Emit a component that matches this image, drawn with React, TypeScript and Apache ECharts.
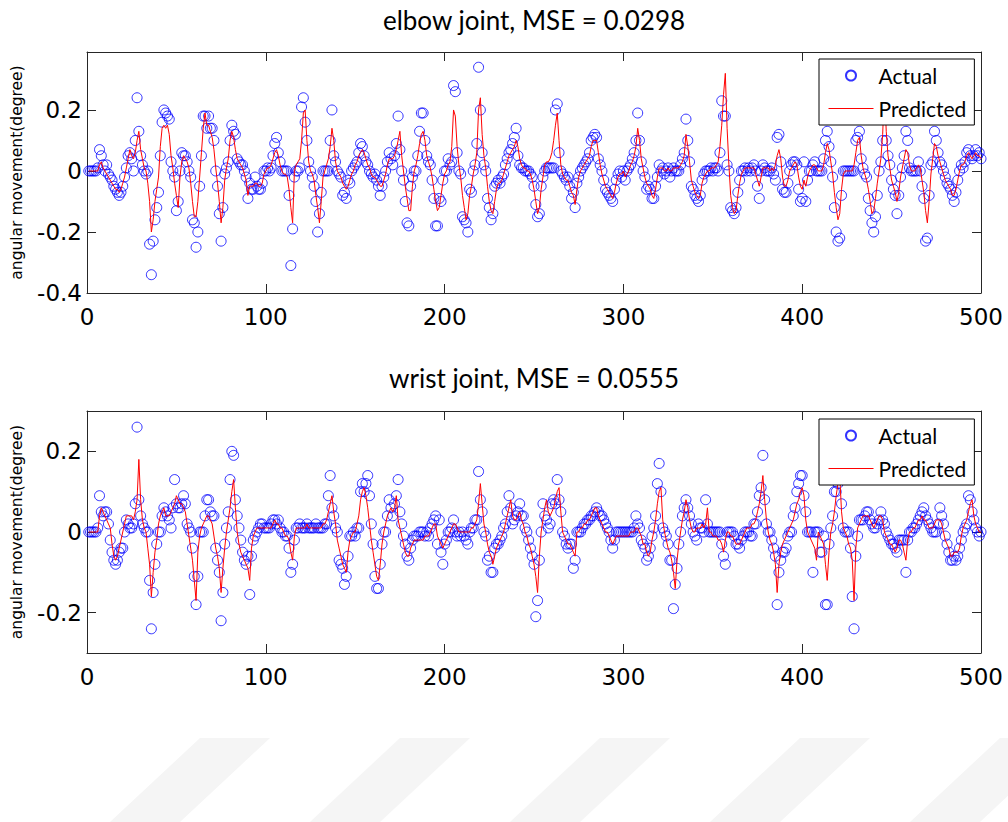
import React, { useEffect, useRef } from "react";
import * as echarts from "echarts";

// x positions are the sample numbers 1..500
const elbowActual = [
  0, 0, 0, 0, 0, 0.01, 0.07, 0.05, 0.02, 0,
  0.02, -0.01, -0.02, -0.03, -0.05, -0.06, -0.07, -0.08, -0.07, -0.05,
  -0.02, 0.01, 0.05, 0.06, 0.04, 0, 0.1, 0.24, 0.13, 0.05,
  0.02, 0, -0.01, 0, -0.24, -0.34, -0.23, -0.16, -0.12, -0.07,
  0.05, 0.16, 0.2, 0.19, 0.18, 0.17, 0.03, 0, -0.02, -0.13,
  -0.1, 0, 0.06, 0.05, 0.05, 0.03, 0, -0.02, -0.16, -0.17,
  -0.25, -0.2, -0.05, 0.05, 0.18, 0.18, 0.14, 0.18, 0.14, 0.14,
  0.1, 0, -0.05, -0.14, -0.23, -0.12, -0.01, 0.01, 0.03, 0.1,
  0.15, 0.13, 0.12, 0.04, 0.03, 0.02, 0.02, 0, -0.02, -0.09,
  -0.04, -0.06, -0.06, -0.02, -0.05, -0.06, -0.06, -0.04, 0, 0,
  0.01, 0, 0.01, 0.05, 0.09, 0.11, 0.06, 0.03, 0, 0,
  0, 0, -0.08, -0.31, -0.19, -0.02, 0, 0, 0.01, 0.21,
  0.24, 0.16, 0.1, 0.03, 0, -0.02, -0.05, -0.1, -0.2, -0.14,
  -0.07, 0, 0, 0, 0, 0.1, 0.2, 0.05, 0.03, 0,
  -0.01, -0.02, -0.08, -0.07, -0.09, -0.03, -0.04, 0, 0.01, 0.02,
  0.03, 0.06, 0.09, 0.08, 0.05, 0.03, 0.02, 0, -0.01, -0.02,
  -0.01, -0.03, -0.05, -0.08, -0.05, -0.02, 0, 0.03, 0.06, 0.04,
  0.02, 0.05, 0.09, 0.18, 0.07, 0, -0.03, -0.1, -0.17, -0.18,
  -0.05, -0.02, 0, 0, 0.05, 0.13, 0.19, 0.19, 0.1, 0.05,
  0.03, 0.02, -0.03, -0.09, -0.18, -0.18, -0.09, -0.1, -0.03, 0,
  0, 0.04, 0.02, 0.03, 0.28, 0.26, 0.06, 0, -0.01, -0.15,
  -0.16, -0.17, -0.2, -0.06, -0.07, 0, 0.02, 0.09, 0.34, 0.2,
  0.06, 0.02, 0, -0.09, -0.12, -0.16, -0.14, -0.05, -0.04, -0.03,
  -0.04, -0.02, -0.01, 0.02, 0.04, 0.06, 0.07, 0.09, 0.11, 0.14,
  0.05, 0.02, 0.01, 0.01, 0, 0, 0, -0.01, -0.02, -0.05,
  -0.11, -0.15, -0.14, -0.05, -0.02, 0, 0.01, 0.01, 0.01, 0.01,
  0.01, 0.2, 0.22, 0.06, 0, -0.01, -0.02, -0.03, -0.02, -0.05,
  -0.09, -0.07, -0.12, -0.04, -0.02, 0, 0.01, 0.02, 0.03, 0.04,
  0.06, 0.1, 0.11, 0.12, 0.11, 0.04, 0.02, 0, -0.03, -0.06,
  -0.07, -0.08, -0.09, -0.1, -0.06, -0.03, -0.01, 0, -0.02, 0,
  -0.03, 0, 0.01, 0.02, 0.04, 0.06, 0.1, 0.19, 0.1, 0.03,
  0, -0.02, -0.06, -0.05, -0.06, -0.09, -0.09, -0.05, -0.02, 0.02,
  0, 0.01, -0.01, 0, 0.01, -0.02, 0, 0.01, 0, 0,
  0, 0.02, 0.04, 0.06, 0.17, 0.1, 0.03, -0.05, -0.06, -0.08,
  -0.09, -0.1, -0.08, -0.03, -0.01, 0, 0, 0, 0.01, 0,
  0.01, 0.01, 0, 0.06, 0.23, 0.18, 0.18, 0.02, 0, -0.12,
  -0.13, -0.14, -0.12, -0.07, -0.03, 0, 0, 0.01, 0, 0.01,
  0, 0.01, 0.02, 0, -0.05, -0.09, 0, 0.02, 0.01, 0,
  0, 0, 0.01, -0.01, -0.03, 0.11, 0.12, 0.03, -0.06, -0.07,
  -0.07, -0.04, 0, 0.02, 0.03, 0.03, 0.02, -0.06, -0.1, -0.09,
  0.03, -0.1, -0.03, 0, 0, 0.02, 0.03, 0, 0, 0,
  0, 0.04, 0.1, 0.13, 0.08, 0.03, -0.02, -0.12, -0.2, -0.23,
  -0.22, -0.08, 0, 0, 0, 0, 0, 0, 0, 0.1,
  0.11, 0.13, 0.04, 0.01, -0.01, -0.02, -0.09, -0.13, -0.17, -0.2,
  -0.15, -0.08, 0, 0.03, 0.1, 0.2, 0.1, 0.05, 0.02, -0.03,
  -0.06, -0.08, -0.14, -0.08, -0.02, 0.01, 0.05, 0.13, 0.1, 0.01,
  0, 0, 0, 0, 0.03, 0, -0.05, -0.09, -0.23, -0.22,
  -0.08, 0.02, 0.03, 0.13, 0.1, 0.06, 0.03, 0.02, 0, -0.02,
  -0.04, -0.05, -0.06, -0.08, -0.1, -0.07, -0.03, 0, 0.02, 0.01,
  0.03, 0.06, 0.07, 0.05, 0.04, 0.05, 0.07, 0.05, 0.06, 0.04,
];

const elbowPredicted = [
  0, 0, 0, 0, 0, 0, 0.02, 0.03, 0.01, 0,
  -0.01, -0.02, -0.03, -0.04, -0.05, -0.06, -0.06, -0.07, -0.06, -0.04,
  -0.02, 0.01, 0.04, 0.07, 0.05, 0.04, 0.06, 0.1, 0.13, 0.07,
  0.04, 0.01, 0, -0.04, -0.1, -0.2, -0.16, -0.1, -0.06, -0.02,
  0.08, 0.14, 0.15, 0.14, 0.15, 0.12, 0.05, 0.01, -0.04, -0.08,
  -0.12, -0.02, 0.03, 0.05, 0.04, 0.03, 0.01, -0.04, -0.1, -0.15,
  -0.15, -0.1, -0.02, 0.06, 0.14, 0.19, 0.15, 0.15, 0.13, 0.11,
  0.07, 0.01, -0.04, -0.1, -0.17, -0.12, -0.03, 0.01, 0.04, 0.1,
  0.13, 0.11, 0.07, 0.04, 0.03, 0.02, 0.01, -0.01, -0.03, -0.08,
  -0.05, -0.05, -0.05, -0.04, -0.04, -0.05, -0.05, -0.04, -0.01, 0,
  0.01, 0.01, 0.02, 0.04, 0.06, 0.07, 0.05, 0.02, 0, -0.01,
  -0.01, -0.02, -0.06, -0.12, -0.17, 0, 0.02, 0.03, 0.04, 0.1,
  0.19, 0.2, 0.1, 0.03, 0, -0.01, -0.03, -0.08, -0.12, -0.17,
  -0.1, -0.02, 0, 0.02, 0.04, 0.08, 0.14, 0.1, 0.03, 0,
  -0.01, -0.02, -0.04, -0.05, -0.06, -0.05, -0.03, -0.01, 0, 0.02,
  0.03, 0.05, 0.06, 0.07, 0.06, 0.04, 0.02, 0.01, -0.01, -0.02,
  -0.02, -0.03, -0.04, -0.05, -0.05, -0.03, -0.01, 0.02, 0.04, 0.04,
  0.04, 0.05, 0.07, 0.1, 0.13, 0.05, 0, -0.05, -0.09, -0.13,
  -0.13, -0.05, 0, 0.02, 0.05, 0.09, 0.12, 0.13, 0.1, 0.05,
  0.03, 0.01, -0.02, -0.06, -0.1, -0.13, -0.12, -0.08, -0.04, -0.01,
  0, 0.02, 0.03, 0.08, 0.2, 0.18, 0.08, 0.02, -0.02, -0.08,
  -0.12, -0.16, -0.14, -0.08, -0.05, -0.01, 0.02, 0.06, 0.2, 0.24,
  0.12, 0.05, 0.01, -0.05, -0.1, -0.13, -0.14, -0.1, -0.06, -0.04,
  -0.04, -0.03, -0.01, 0.01, 0.03, 0.05, 0.06, 0.07, 0.08, 0.1,
  0.08, 0.04, 0.02, 0.01, 0.01, 0, 0, -0.01, -0.03, -0.06,
  -0.1, -0.14, -0.12, -0.06, -0.02, 0.02, 0.03, 0.03, 0.04, 0.06,
  0.1, 0.15, 0.19, 0.1, 0.02, -0.01, -0.02, -0.03, -0.03, -0.05,
  -0.07, -0.08, -0.11, -0.06, -0.02, 0, 0.01, 0.02, 0.03, 0.04,
  0.05, 0.08, 0.1, 0.1, 0.1, 0.06, 0.02, -0.01, -0.03, -0.05,
  -0.06, -0.07, -0.08, -0.09, -0.07, -0.04, -0.02, -0.01, -0.01, 0,
  -0.02, -0.01, 0, 0.02, 0.03, 0.05, 0.08, 0.14, 0.1, 0.04,
  0.01, -0.02, -0.04, -0.05, -0.06, -0.08, -0.09, -0.06, -0.02, 0.01,
  0.01, 0.01, 0, 0, 0.01, 0, 0, 0.01, 0.01, 0.01,
  0.01, 0.02, 0.03, 0.05, 0.12, 0.08, 0.03, -0.03, -0.05, -0.07,
  -0.08, -0.09, -0.08, -0.04, -0.02, -0.01, 0, 0, 0.01, 0.01,
  0.01, 0.02, 0.03, 0.08, 0.15, 0.25, 0.32, 0.14, 0.02, -0.08,
  -0.12, -0.14, -0.13, -0.08, -0.04, -0.01, 0, 0.01, 0.01, 0.01,
  0.01, 0.01, 0.01, -0.01, -0.03, -0.05, -0.02, 0.01, 0.01, 0.01,
  0.01, 0, 0.01, 0, 0.02, 0.05, 0.07, 0.04, -0.02, -0.05,
  -0.05, -0.03, 0, 0.01, 0.02, 0.03, 0.02, -0.02, -0.05, -0.06,
  -0.03, -0.05, -0.02, 0, 0.01, 0.02, 0.02, 0.01, 0, 0,
  0, 0.02, 0.06, 0.09, 0.07, 0.03, -0.01, -0.07, -0.12, -0.16,
  -0.14, -0.06, -0.01, 0, 0, 0, 0, 0, 0.02, 0.06,
  0.1, 0.11, 0.05, 0.01, -0.01, -0.03, -0.06, -0.1, -0.14, -0.13,
  -0.09, -0.04, 0, 0.04, 0.12, 0.27, 0.13, 0.05, 0.01, -0.03,
  -0.05, -0.07, -0.1, -0.07, -0.02, 0.01, 0.04, 0.07, 0.06, 0.02,
  0, 0, 0, 0.01, 0.02, 0.01, -0.03, -0.07, -0.13, -0.17,
  -0.1, -0.01, 0.04, 0.09, 0.08, 0.05, 0.03, 0.01, -0.01, -0.03,
  -0.04, -0.05, -0.06, -0.08, -0.08, -0.06, -0.03, 0, 0.02, 0.02,
  0.03, 0.05, 0.06, 0.05, 0.04, 0.05, 0.06, 0.05, 0.05, 0.04,
];

const wristActual = [
  0, 0, 0, 0, 0, 0.01, 0.09, 0.05, 0.04, 0.05,
  0.05, 0.02, -0.02, -0.05, -0.07, -0.08, -0.07, -0.05, -0.04, -0.04,
  0, 0.03, 0.02, 0.01, 0.01, 0.02, 0.07, 0.26, 0.08, 0.04,
  0.02, 0.01, 0, 0, -0.12, -0.24, -0.15, -0.08, -0.03, 0,
  0, 0.04, 0.06, 0.05, 0.04, 0.03, 0.01, 0.06, 0.13, 0.07,
  0.06, 0.06, 0.07, 0.09, 0.07, 0.02, 0.01, 0, -0.04, -0.11,
  -0.18, -0.11, 0, 0, 0, 0.04, 0.08, 0.08, 0.05, 0.04,
  0.04, -0.04, -0.07, -0.1, -0.22, -0.15, -0.03, 0.01, 0.05, 0.13,
  0.2, 0.19, 0.08, 0.04, 0.01, -0.02, -0.05, -0.07, -0.08, -0.06,
  -0.155, -0.06, -0.02, -0.01, 0, 0.01, 0.02, 0.02, 0.01, 0.01,
  0.01, 0.01, 0.02, 0.03, 0.03, 0.02, 0.03, 0.01, 0, 0,
  -0.01, -0.01, -0.04, -0.1, -0.08, -0.02, 0.01, 0.01, 0.02, 0.01,
  0.01, 0.01, 0.02, 0.01, 0.01, 0.01, 0.01, 0.02, 0.01, 0.01,
  0.01, 0.01, 0.02, 0.02, 0.09, 0.14, 0.06, 0.04, 0.01, 0,
  -0.07, -0.08, -0.09, -0.13, -0.11, -0.06, -0.01, -0.01, 0, -0.01,
  0.01, 0.01, 0.1, 0.12, 0.1, 0.12, 0.14, 0.09, 0.02, -0.03,
  -0.11, -0.14, -0.14, -0.08, -0.03, 0, 0, 0.04, 0.08, 0.06,
  0.04, 0.07, 0.09, 0.13, 0.05, 0.02, -0.01, -0.03, -0.06, -0.07,
  -0.04, -0.02, -0.01, -0.01, -0.01, 0, 0, 0, -0.01, 0,
  -0.01, 0.01, 0.02, 0.03, 0.04, -0.03, 0.03, -0.05, -0.08, -0.03,
  -0.02, 0, 0, 0.01, 0.03, 0, -0.01, 0, -0.01, 0,
  -0.01, -0.02, -0.03, 0, 0.01, 0.01, 0.03, 0.03, 0.15, 0.08,
  0.05, 0, -0.01, -0.07, -0.06, -0.1, -0.1, -0.04, -0.03, -0.03,
  -0.02, -0.01, 0.01, 0.02, 0.05, 0.09, 0.06, 0.02, 0.03, 0.04,
  0.05, 0.07, 0.04, 0.04, 0.01, 0, -0.02, -0.04, -0.06, -0.08,
  -0.21, -0.17, -0.07, 0, 0.07, 0.04, 0.03, 0.01, 0.02, 0.07,
  0.08, 0.07, 0.13, 0.08, 0.05, 0, -0.01, -0.03, -0.04, -0.03,
  -0.03, -0.09, -0.07, 0, 0, 0, 0.01, 0.02, 0.02, 0.03,
  0.03, 0.04, 0.04, 0.05, 0.06, 0.05, 0.04, 0.04, 0.03, 0.02,
  0.01, 0, -0.02, -0.04, -0.02, 0, 0, 0, 0, 0,
  0, 0, 0, 0, 0, 0.01, 0.04, 0.02, 0.01, -0.02,
  -0.03, -0.04, -0.07, -0.06, -0.04, -0.01, 0.01, 0.04, 0.12, 0.17,
  0.1, 0.01, 0, -0.01, -0.03, -0.07, -0.07, -0.19, -0.13, -0.09,
  -0.03, 0, 0.04, 0.06, 0.08, 0.06, 0.04, 0.02, 0, -0.01,
  -0.02, 0.02, 0.01, 0.01, 0, 0.08, 0.02, 0, 0, 0,
  0, 0, 0, 0, -0.03, -0.06, -0.08, 0, 0, 0,
  0, -0.01, -0.03, -0.03, -0.04, -0.02, -0.01, 0, 0, 0,
  -0.01, -0.01, 0.02, 0.02, 0.05, 0.09, 0.11, 0.19, 0.08, 0.02,
  0, 0, -0.02, -0.04, -0.06, -0.18, -0.1, -0.07, -0.05, -0.05,
  -0.04, -0.01, 0, 0, 0.04, 0.06, 0.1, 0.12, 0.14, 0.14,
  0.09, 0.05, 0, 0, 0, -0.1, 0, 0, 0, -0.05,
  -0.05, -0.01, -0.18, -0.18, -0.03, 0.01, 0.04, 0.1, 0.1, 0.12,
  0.15, 0.07, 0.01, 0, 0, 0, -0.04, -0.16, -0.24, -0.06,
  -0.01, 0.03, 0.03, 0.03, 0.04, 0.05, 0.05, 0.03, 0.02, 0.01,
  0.01, 0.02, 0.03, 0.05, 0.03, 0.02, 0, -0.01, -0.02, -0.03,
  -0.03, -0.04, -0.05, -0.02, -0.02, -0.02, -0.02, -0.1, -0.02, 0,
  0, 0.01, 0.01, 0.02, 0.03, 0.04, 0.05, 0.06, 0.04, 0.03,
  0.02, 0.01, 0, 0, 0, 0.02, 0.06, 0.04, 0.02, -0.01,
  -0.03, -0.05, -0.07, -0.07, -0.06, -0.07, -0.06, -0.04, -0.02, 0,
  0.01, 0.02, 0.09, 0.08, 0.05, 0.03, 0.01, 0, -0.01, 0,
];

const wristPredicted = [
  0, 0, 0, 0, 0, 0, 0.04, 0.06, 0.05, 0.04,
  0.03, 0.02, 0.01, -0.03, -0.06, -0.07, -0.06, -0.04, -0.02, 0,
  0.02, 0.04, 0.04, 0.04, 0.04, 0.03, 0.05, 0.08, 0.18, 0.08,
  0.03, 0.01, 0, -0.04, -0.08, -0.16, -0.1, -0.05, -0.02, 0.02,
  0.04, 0.05, 0.06, 0.04, 0.04, 0.04, 0.05, 0.06, 0.07, 0.09,
  0.08, 0.07, 0.07, 0.06, 0.05, 0.02, -0.01, -0.04, -0.07, -0.12,
  -0.17, -0.05, -0.01, 0.01, 0.02, 0.03, 0.04, 0.04, 0.03, 0.02,
  -0.01, -0.04, -0.06, -0.09, -0.15, -0.09, -0.04, 0, 0.03, 0.06,
  0.1, 0.13, 0.06, 0, -0.03, -0.05, -0.06, -0.07, -0.08, -0.09,
  -0.12, -0.04, -0.01, 0, 0.01, 0.01, 0.01, 0.01, 0.01, 0.01,
  0.01, 0.01, 0.01, 0.02, 0.03, 0.02, 0.02, 0.01, 0.01, 0,
  -0.01, -0.01, -0.02, -0.05, -0.07, -0.01, 0.01, 0.01, 0.01, 0.01,
  0.01, 0.01, 0.02, 0.01, 0.01, 0.01, 0.01, 0.01, 0.01, 0.01,
  0.01, 0.02, 0.02, 0.03, 0.05, 0.07, 0.09, 0.05, 0.02, -0.02,
  -0.04, -0.06, -0.08, -0.09, -0.1, -0.05, -0.02, -0.01, 0, 0,
  0.02, 0.04, 0.08, 0.1, 0.11, 0.09, 0.06, 0.02, -0.02, -0.05,
  -0.08, -0.11, -0.12, -0.08, -0.03, 0, 0.02, 0.04, 0.05, 0.06,
  0.05, 0.06, 0.09, 0.03, 0.01, -0.01, -0.03, -0.05, -0.06, -0.06,
  -0.04, -0.03, -0.02, -0.02, -0.02, -0.02, -0.02, -0.02, -0.01, -0.01,
  -0.01, 0, 0.01, 0.02, 0.02, -0.01, -0.02, -0.03, -0.04, -0.03,
  -0.02, -0.01, 0, 0.01, 0.02, 0.02, 0.01, 0, 0, 0,
  0, 0, 0, 0, 0.01, 0.01, 0.02, 0.03, 0.07, 0.12,
  0.07, 0.02, 0, -0.03, -0.05, -0.06, -0.08, -0.06, -0.04, -0.03,
  -0.02, -0.01, 0, 0.02, 0.04, 0.06, 0.08, 0.04, 0.03, 0.03,
  0.04, 0.05, 0.03, 0.02, 0, -0.01, -0.03, -0.04, -0.06, -0.08,
  -0.11, -0.15, -0.06, 0, 0.03, 0.06, 0.08, 0.05, 0.04, 0.05,
  0.06, 0.08, 0.1, 0.11, 0.05, 0, -0.01, -0.02, -0.03, -0.03,
  -0.04, -0.05, -0.06, 0, 0, 0.01, 0.01, 0.02, 0.02, 0.03,
  0.03, 0.04, 0.05, 0.06, 0.06, 0.04, 0.03, 0.02, 0.01, 0,
  0, -0.01, -0.02, -0.03, -0.02, -0.01, -0.01, -0.01, -0.01, -0.01,
  -0.01, -0.01, -0.01, 0, 0, 0, 0.01, 0.01, 0, -0.01,
  -0.03, -0.03, -0.05, -0.06, -0.05, -0.02, 0, 0.03, 0.07, 0.1,
  0.11, 0.03, 0, -0.02, -0.04, -0.05, -0.07, -0.1, -0.14, -0.07,
  -0.03, 0, 0.03, 0.05, 0.08, 0.06, 0.03, 0.01, 0, 0,
  0.01, 0.01, 0.01, 0.02, 0.01, 0.02, 0.06, 0, 0, -0.01,
  -0.01, -0.01, -0.02, -0.02, -0.03, -0.05, -0.02, 0, 0, -0.01,
  -0.01, -0.02, -0.03, -0.03, -0.03, -0.02, -0.01, 0, 0.01, 0.01,
  0.01, 0.02, 0.02, 0.03, 0.05, 0.07, 0.1, 0.14, 0.08, 0.03,
  0, -0.02, -0.03, -0.05, -0.08, -0.15, -0.08, -0.05, -0.03, -0.02,
  -0.01, 0, 0.01, 0.02, 0.03, 0.05, 0.07, 0.08, 0.1, 0.11,
  0.09, 0.03, 0, -0.01, -0.02, -0.03, -0.04, -0.07, 0, -0.01,
  -0.02, -0.03, -0.08, -0.12, -0.05, 0, 0.02, 0.05, 0.09, 0.12,
  0.14, 0.05, 0.01, 0, -0.01, -0.03, -0.04, -0.07, -0.17, -0.04,
  0.01, 0.02, 0.03, 0.04, 0.04, 0.04, 0.04, 0.03, 0.02, 0.01,
  0.02, 0.03, 0.04, 0.04, 0.03, 0, -0.01, -0.02, -0.03, -0.03,
  -0.04, -0.05, -0.04, -0.02, -0.02, -0.03, -0.05, -0.07, -0.02, 0,
  0, 0.01, 0.01, 0.02, 0.03, 0.03, 0.04, 0.03, 0.03, 0.02,
  0.01, 0.01, 0.01, 0.02, 0.03, 0.03, 0.03, 0.02, 0, -0.02,
  -0.03, -0.04, -0.06, -0.06, -0.05, -0.05, -0.05, -0.04, -0.01, 0.01,
  0.02, 0.03, 0.05, 0.07, 0.08, 0.04, 0.02, 0.01, 0, 0,
];

const titles = ["elbow joint, MSE = 0.0298", "wrist joint, MSE = 0.0555"];
const xTicks = [0, 100, 200, 300, 400, 500];
const elbowYTicks = [-0.4, -0.2, 0, 0.2];
const wristYTicks = [-0.2, 0, 0.2];
const yName = "angular movement(degree)";
const legendNames = ["Actual", "Predicted"];

const AXIS_COLOR = "#262626";
const TICK_FONT = "DejaVu Sans";
const TEXT_FONT = "Lato";

function pairs(values: number[]) {
  return values.map((v, i) => [i + 1, v]);
}

export default function App() {
  const ref = useRef<HTMLDivElement>(null);

  useEffect(() => {
    if (!ref.current) return;
    const chart = echarts.init(ref.current, null, { renderer: "svg" });

    const grids = [
      { left: 87, top: 52, width: 894, height: 241 },
      { left: 87, top: 411, width: 894, height: 242 },
    ];
    const yRanges = [
      { min: -0.4, max: 0.39, ticks: elbowYTicks },
      { min: -0.3, max: 0.3, ticks: wristYTicks },
    ];

    const xAxes: any[] = [];
    const yAxes: any[] = [];
    [0, 1].forEach((g) => {
      ["bottom", "top"].forEach((pos) => {
        xAxes.push({
          type: "value",
          gridIndex: g,
          position: pos,
          min: xTicks[0],
          max: xTicks[xTicks.length - 1],
          interval: 100,
          axisLine: { show: true, onZero: false, lineStyle: { color: AXIS_COLOR, width: 1 } },
          axisTick: { show: true, inside: true, length: 9, lineStyle: { color: AXIS_COLOR } },
          axisLabel: {
            show: pos === "bottom",
            fontFamily: TICK_FONT,
            fontSize: 23,
            color: "#000",
            margin: 12,
          },
          splitLine: { show: false },
        });
      });
      ["left", "right"].forEach((pos) => {
        const r = yRanges[g];
        yAxes.push({
          type: "value",
          gridIndex: g,
          position: pos,
          min: r.min,
          max: r.max,
          axisLine: { show: true, onZero: false, lineStyle: { color: AXIS_COLOR, width: 1 } },
          axisTick: {
            show: true,
            inside: true,
            length: 9,
            customValues: r.ticks,
            lineStyle: { color: AXIS_COLOR },
          },
          axisLabel: {
            show: pos === "left",
            customValues: r.ticks,
            formatter: (v: number) => String(Math.round(v * 10) / 10),
            fontFamily: TICK_FONT,
            fontSize: 23,
            color: "#000",
            margin: 5,
          },
          splitLine: { show: false },
          name: pos === "left" ? yName : "",
          nameLocation: "middle",
          nameGap: 62,
          nameTextStyle: { fontFamily: TICK_FONT, fontSize: 15.5, color: "#000" },
        });
      });
    });

    const dataSets = [
      [elbowActual, elbowPredicted],
      [wristActual, wristPredicted],
    ];
    const series: any[] = [];
    dataSets.forEach(([act, pred], g) => {
      series.push({
        name: legendNames[0],
        type: "scatter",
        xAxisIndex: g * 2,
        yAxisIndex: g * 2,
        data: pairs(act),
        symbol: "circle",
        symbolSize: 10,
        itemStyle: { color: "rgba(0,0,0,0)", borderColor: "#0000ff", borderWidth: 1 },
        emphasis: { disabled: true },
        z: 2,
      });
      series.push({
        name: legendNames[1],
        type: "line",
        xAxisIndex: g * 2,
        yAxisIndex: g * 2,
        data: pairs(pred),
        symbol: "none",
        showSymbol: false,
        color: "#ff0000",
        lineStyle: { color: "#ff0000", width: 1 },
        emphasis: { disabled: true },
        z: 3,
      });
    });

    const legends = [59, 419].map((top) => ({
      left: 819,
      top,
      orient: "vertical",
      data: [
        { name: legendNames[0] },
        {
          name: legendNames[1],
          itemStyle: { opacity: 0 },
          lineStyle: { width: 1, color: "#ff0000" },
        },
      ],
      itemWidth: 45,
      itemHeight: 10,
      itemGap: 12,
      padding: [6, 8, 6, 9],
      borderColor: "#000",
      borderWidth: 1,
      backgroundColor: "#fff",
      selectedMode: false,
      textStyle: { fontFamily: TEXT_FONT, fontSize: 21, color: "#000" },
    }));

    const stripes = [110, 310, 510, 710, 910].map((x0) => ({
      type: "polygon",
      silent: true,
      z: -10,
      shape: {
        points: [
          [x0, 822],
          [x0 + 70, 822],
          [x0 + 160, 738],
          [x0 + 90, 738],
        ],
      },
      style: { fill: "#f5f5f5" },
    }));

    chart.setOption({
      animation: false,
      backgroundColor: "#fff",
      grid: grids.map((g) => ({ ...g, containLabel: false })),
      xAxis: xAxes,
      yAxis: yAxes,
      legend: legends,
      series,
      graphic: [
        ...stripes,
        {
          type: "text",
          x: 534,
          y: 20,
          style: {
            text: titles[0],
            font: `26px ${TEXT_FONT}`,
            fill: "#000",
            align: "center",
            verticalAlign: "middle",
          },
        },
        {
          type: "text",
          x: 534,
          y: 378,
          style: {
            text: titles[1],
            font: `26px ${TEXT_FONT}`,
            fill: "#000",
            align: "center",
            verticalAlign: "middle",
          },
        },
      ],
    });

    return () => chart.dispose();
  }, []);

  return (
    <div
      ref={ref}
      style={{ position: "absolute", left: 0, top: 0, width: 1008, height: 822 }}
    />
  );
}
